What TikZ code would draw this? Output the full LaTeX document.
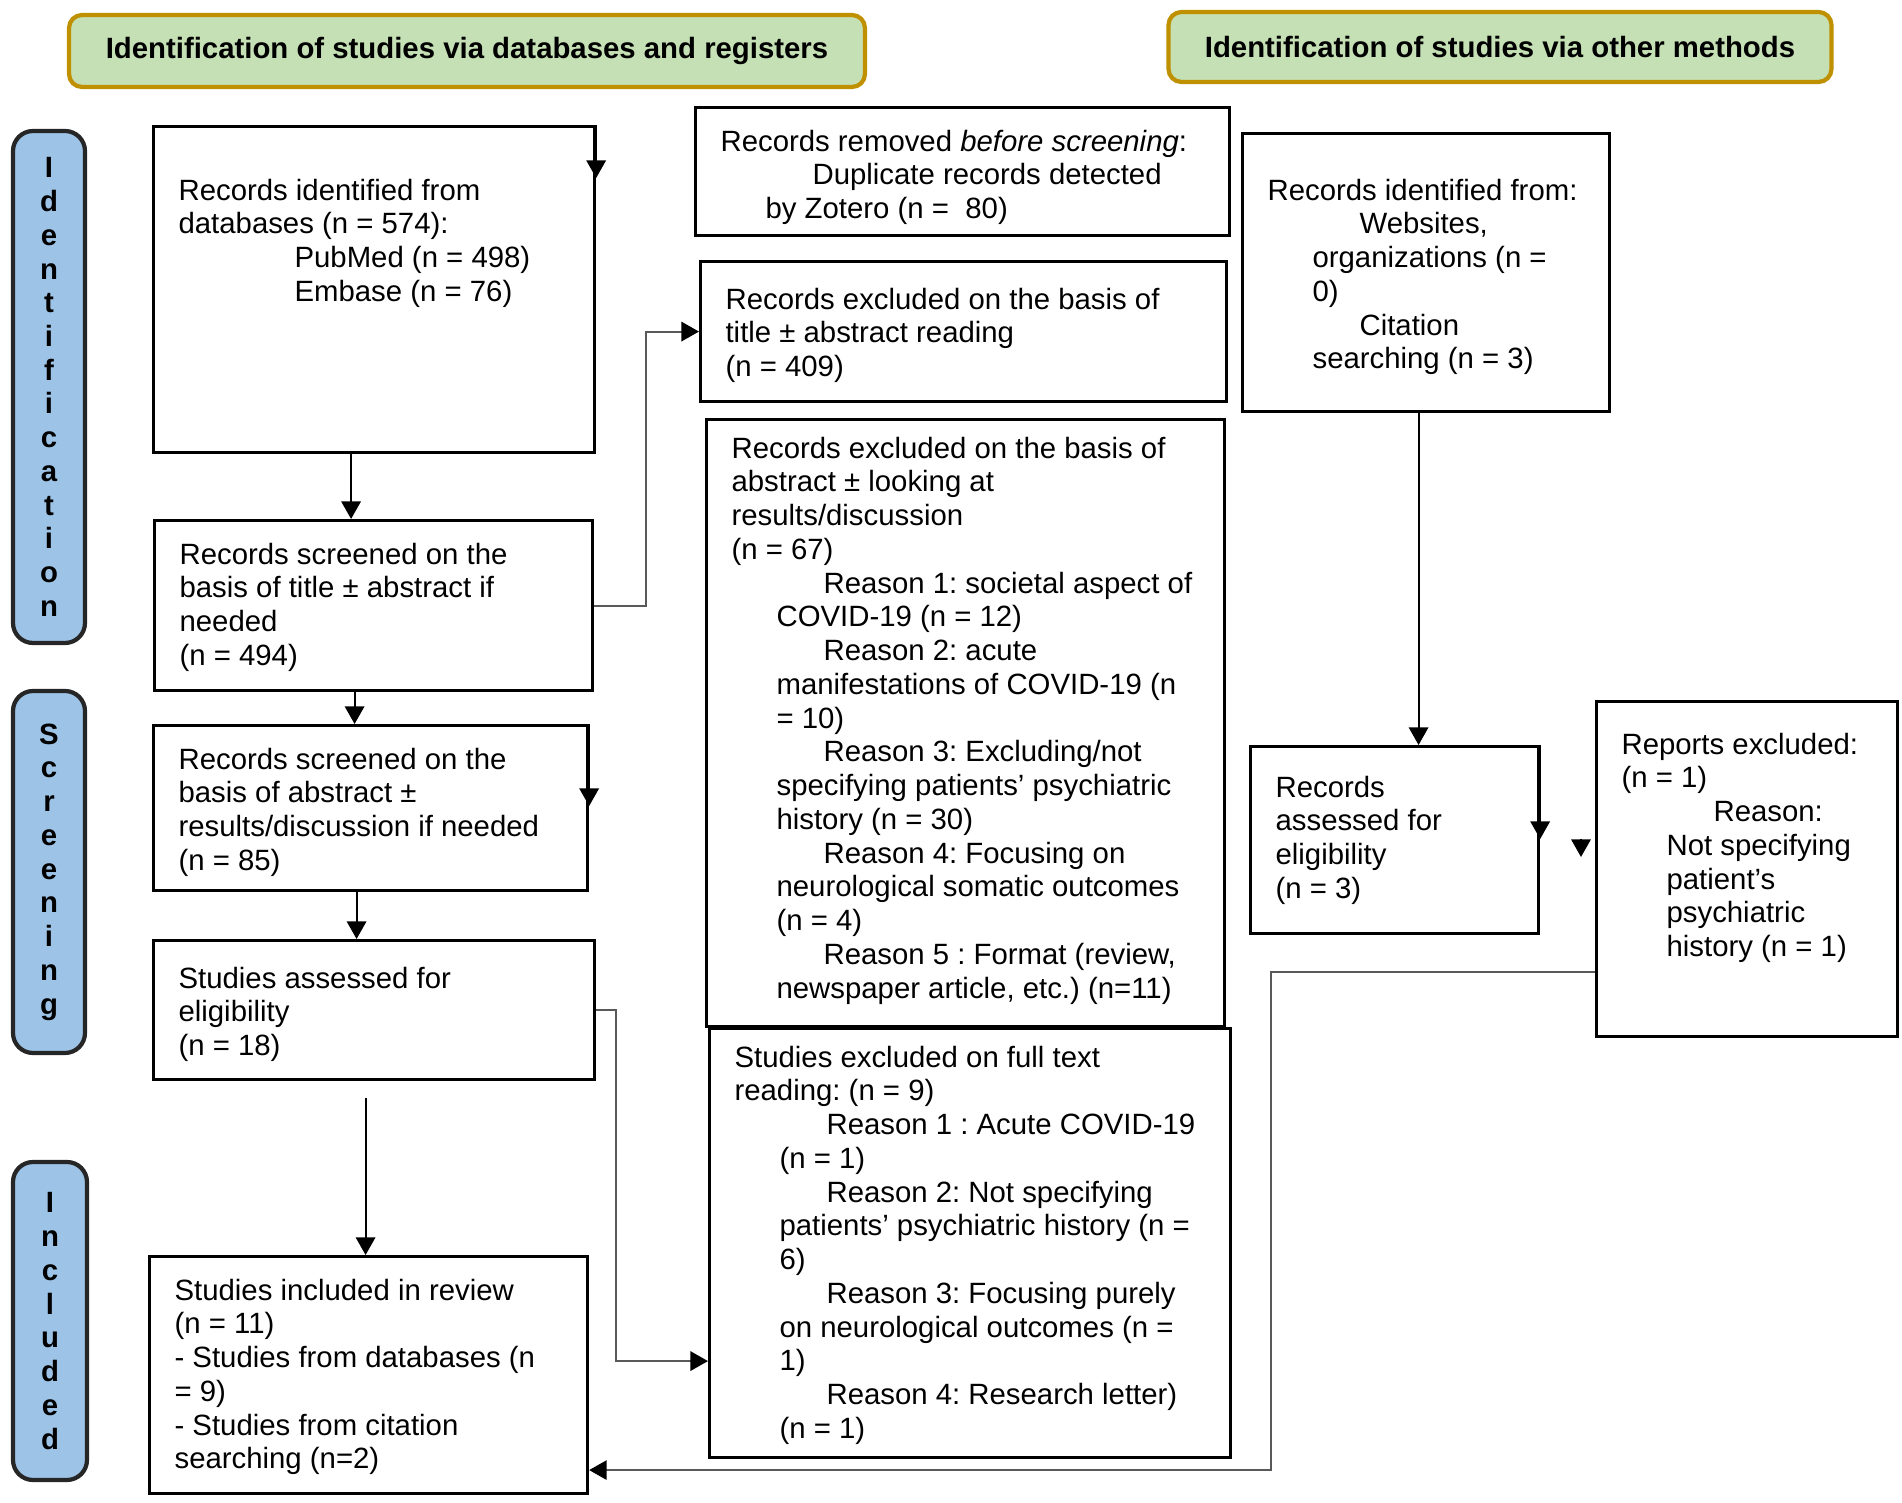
\documentclass[tikz,border=0pt]{standalone}
\usepackage{fontspec}
\setmainfont{Liberation Sans}
\usepackage{tikz}
\usetikzlibrary{arrows.meta,positioning,calc}
\definecolor{hdfill}{HTML}{C5E0B4}
\definecolor{hdline}{HTML}{BF9000}
\definecolor{sidefill}{HTML}{9DC3E6}
\newcommand{\boxtext}[4]{\parbox[t][#2][t]{#1}{\raggedright\vspace*{#3}\strut#4}}
\newcommand{\rsnind}{\hspace*{9.2mm}}
\newcommand{\contind}{\hspace*{4.5mm}}
\frenchspacing

\begin{document}
\begin{tikzpicture}[x=0.1mm,y=-0.1mm,font=\fontsize{8.35}{9.6}\selectfont,>={Triangle[length=5pt,width=5.5pt]},
  hdr/.style={draw=hdline,fill=hdfill,line width=1.2pt,rounded corners=1.3mm,font=\fontsize{8.35}{9.6}\selectfont\bfseries},
  side/.style={draw=black!85,fill=sidefill,line width=1.2pt,rounded corners=2mm,align=center,inner sep=0pt,
    minimum width=7.2mm,font=\fontsize{8.35}{9.6}\selectfont\bfseries},
  box/.style={draw,line width=0.9pt,anchor=north west,inner xsep=2.5mm,inner ysep=2mm},
  flow/.style={->,line width=0.6pt},
  link/.style={-{Triangle[length=5pt,width=5.5pt,color=black]},line width=0.6pt,draw=black!65}]
  \useasboundingbox (0,0) rectangle (1902,1503);
  % headers
  \node[hdr,minimum width=79.6mm,minimum height=7.2mm] (dbhead) at (467,51) {Identification of studies via databases and registers};
  \node[hdr,minimum width=66.3mm,minimum height=7.0mm] (othead) at (1500,47) {Identification of studies via other methods};
  % stage bars
  \node[side,minimum height=51.2mm] (idside) at (49,387) {I\\d\\e\\n\\t\\i\\f\\i\\c\\a\\t\\i\\o\\n};
  \node[side,minimum height=36.2mm] (scside) at (49,872) {S\\c\\r\\e\\e\\n\\i\\n\\g};
  \node[side,minimum height=31.8mm,minimum width=7.4mm] (incside) at (50,1321) {I\\n\\c\\l\\u\\d\\e\\d};
  % databases column
  \node[box] (dbrec) at (152,125) {\boxtext{39.1mm}{28.6mm}{3mm}{Records identified from\\databases (n = 574):\\\hspace*{11.6mm}PubMed (n = 498)\\\hspace*{11.6mm}Embase (n = 76)}};
  \node[box] (scrtitle) at (153,519) {\boxtext{38.8mm}{13mm}{0mm}{Records screened on the\\basis of title ± abstract if\\needed\\(n = 494)}};
  \node[box] (scrabs) at (152,724) {\boxtext{38.4mm}{12.5mm}{0mm}{Records screened on the\\basis of abstract ±\\results/discussion if needed\\(n = 85)}};
  \node[box] (asses) at (152,939) {\boxtext{39.1mm}{9.9mm}{0.4mm}{Studies assessed for\\eligibility\\(n = 18)}};
  \node[box] (incl) at (148,1255) {\boxtext{38.8mm}{19.7mm}{0mm}{Studies included in review\\(n = 11)\\- Studies from databases (n\\= 9)\\- Studies from citation\\searching (n=2)}};
  % exclusions
  \node[box] (removed) at (694,106) {\boxtext{48.4mm}{8.8mm}{0mm}{Records removed \textit{before screening}:\\\rsnind Duplicate records detected\\\contind by Zotero (n = \ 80)}};
  \node[box] (extitle) at (699,260) {\boxtext{47.6mm}{10mm}{0.4mm}{Records excluded on the basis of\\title ± abstract reading\\(n = 409)}};
  \node[box] (exabs) at (705,418) {\boxtext{46.8mm}{56.7mm}{-0.5mm}{Records excluded on the basis of\\abstract ± looking at\\results/discussion\\(n = 67)\\
    \rsnind Reason 1: societal aspect of\\\contind COVID-19 (n = 12)\\
    \rsnind Reason 2: acute\\\contind manifestations of COVID-19 (n\\\contind = 10)\\
    \rsnind Reason 3: Excluding/not\\\contind specifying patients’ psychiatric\\\contind history (n = 30)\\
    \rsnind Reason 4: Focusing on\\\contind neurological somatic outcomes\\\contind (n = 4)\\
    \rsnind Reason 5 : Format (review,\\\contind newspaper article, etc.) (n=11)}};
  \node[box] (ftext) at (708,1027) {\boxtext{47.1mm}{38.9mm}{-0.5mm}{Studies excluded on full text\\reading: (n = 9)\\
    \rsnind Reason 1 : Acute COVID-19\\\contind (n = 1)\\
    \rsnind Reason 2: Not specifying\\\contind patients’ psychiatric history (n =\\\contind 6)\\
    \rsnind Reason 3: Focusing purely\\\contind on neurological outcomes (n =\\\contind 1)\\
    \rsnind Reason 4: Research letter)\\\contind (n = 1)}};
  % other methods column
  \node[box] (othrec) at (1241,132) {\boxtext{31.7mm}{23.8mm}{2.3mm}{Records identified from:\\\rsnind Websites,\\\contind organizations (n =\\\contind 0)\\\rsnind Citation\\\contind searching (n = 3)}};
  \node[box] (othass) at (1249,745) {\boxtext{23.8mm}{14.7mm}{0.7mm}{Records\\assessed for\\eligibility\\(n = 3)}};
  \node[box] (repex) at (1595,700) {\boxtext{25.1mm}{29.5mm}{0.9mm}{Reports excluded:\\(n = 1)\\\rsnind Reason:\\\contind Not specifying\\\contind patient’s\\\contind psychiatric\\\contind history (n = 1)}};
  \coordinate (lone) at (1581,857);
  % main flow
  \draw[flow] ([xshift=-2.3mm]dbrec.south) -- ([xshift=-2.3mm]dbrec.south |- scrtitle.north);
  \draw[flow] ([xshift=-1.9mm]scrtitle.south) -- ([xshift=-1.9mm]scrtitle.south |- scrabs.north);
  \draw[flow] ([xshift=-1.4mm]scrabs.south) -- ([xshift=-1.4mm]scrabs.south |- asses.north);
  \draw[flow] ([xshift=-0.85mm,yshift=-1.7mm]asses.south) -- ([xshift=-0.85mm]asses.south |- incl.north);
  \draw[flow] ([xshift=-0.75mm]othrec.south) -- ([xshift=-0.75mm]othrec.south |- othass.north);
  % side links
  \draw[link] (scrtitle.east) -- ++(5.2mm,0) |- (extitle.west);
  \draw[link] (asses.east) -- ++(2mm,0) |- ([yshift=-11.8mm]ftext.west);
  \draw[link] ([yshift=-10.3mm]repex.west) -- ++(-32.4mm,0) |- ([yshift=-9.5mm]incl.east);
  % loose tips on the box edges
  \draw[flow] (dbrec.north east) -- ([yshift=-5.3mm]dbrec.north east);
  \draw[flow] (scrabs.north east) -- ([yshift=-8.2mm]scrabs.north east);
  \draw[flow] (othass.north east) -- ([yshift=-9.4mm]othass.north east);
  \draw[flow] ([yshift=1.8mm]lone) -- (lone);
\end{tikzpicture}
\end{document}
